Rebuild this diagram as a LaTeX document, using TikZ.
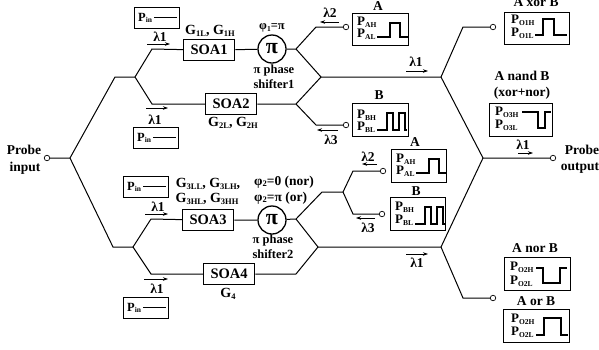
\documentclass[tikz,border=0pt]{standalone}
\usepackage{fontspec}
\setmainfont{Liberation Serif}
\usetikzlibrary{arrows.meta}
\newcommand{\sbs}[1]{\raisebox{-1.6pt}{\fontsize{7.5}{8}\selectfont #1}}
\newcommand{\sbg}[1]{\raisebox{-1.6pt}{\fontsize{8.5}{9}\selectfont #1}}
\tikzset{
  wire/.style={line width=1pt},
  boxed/.style={draw,line width=1.3pt,fill=white,inner sep=0pt,anchor=north west},
  soa/.style={boxed,font=\fontsize{14.5}{15}\bfseries\selectfont},
  port/.style={draw,circle,fill=white,line width=0.7pt,minimum size=5.5pt,inner sep=0pt},
  shifter/.style={draw,circle,fill=white,line width=1.3pt,minimum size=28pt,inner sep=0pt,font=\fontsize{22}{22}\bfseries\selectfont},
  lab/.style={inner sep=0pt,font=\fontsize{12.5}{14}\bfseries\selectfont},
  glab/.style={inner sep=0pt,font=\fontsize{14}{15}\bfseries\selectfont},
  flab/.style={inner sep=0pt,anchor=west,font=\fontsize{13.5}{15}\bfseries\selectfont},
  biglab/.style={inner sep=0pt,font=\fontsize{13.5}{15}\bfseries\selectfont},
  sig/.style={inner sep=0pt,anchor=west,font=\fontsize{13}{13}\bfseries\selectfont},
  ar/.style={line width=0.7pt,-{Stealth[length=5pt,width=3.5pt]}},
  wave/.style={line width=1.2pt}
}
\newcommand{\sboxat}[5]{\node[boxed,minimum width=#3pt,minimum height=#4pt] (#5) at (#1,#2) {};}
\begin{document}
\begin{tikzpicture}[x=1pt,y=-1pt]
\useasboundingbox (0,0) rectangle (599,349);
% coordinates
\coordinate (j0) at (70,158);
\coordinate (u1) at (115,77);
\coordinate (u2) at (135,77);
\coordinate (u3) at (152,49);
\coordinate (u4) at (152,104);
\coordinate (l1) at (113,247);
\coordinate (l2) at (133,247);
\coordinate (l3) at (151,219);
\coordinate (l4) at (151,274);
\coordinate (a1) at (296,49);
\coordinate (a2) at (296,104);
\coordinate (a3) at (316,27);
\coordinate (a4) at (316,125);
\coordinate (a5) at (321,77);
\coordinate (b1) at (296,219);
\coordinate (b2) at (296,274);
\coordinate (b3) at (322,192);
\coordinate (b4) at (343,192);
\coordinate (b5) at (353,171);
\coordinate (b6) at (353,214);
\coordinate (b7) at (318,247);
\coordinate (c1) at (441,77);
\coordinate (c2) at (441,247);
\coordinate (c3) at (463,27);
\coordinate (c4) at (463,298);
\coordinate (c5) at (483,158);
% elements
\node[soa,minimum width=51pt,minimum height=21pt] (soa1) at (183,39) {SOA1};
\node[soa,minimum width=51pt,minimum height=21pt] (soa2) at (205,93) {SOA2};
\node[soa,minimum width=51pt,minimum height=21pt] (soa3) at (182,209) {SOA3};
\node[soa,minimum width=51pt,minimum height=21pt] (soa4) at (203,263) {SOA4};
\node[shifter] (ps1) at (272,49) {π};
\node[shifter] (ps2) at (272,220) {π};
\node[port] (pin) at (47,158) {};
\node[port] (pout) at (553,158) {};
\node[port] (pa1) at (346,27) {};
\node[port] (pb1) at (346,125) {};
\node[port] (pa2) at (383,171) {};
\node[port] (pb2) at (382,214) {};
\node[port] (pxor) at (493,27) {};
\node[port] (pnor) at (493,298) {};
% wires
\begin{scope}[wire]
\draw (pin) -- (j0) -- (u1) -- (u2) -- (u3) -- (soa1);
\draw (u2) -- (u4) -- (soa2);
\draw (j0) -- (l1) -- (l2) -- (l3) -- (soa3);
\draw (l2) -- (l4) -- (soa4);
\draw (soa1) -- (ps1) -- (a1) -- (a3) -- (pa1);
\draw (a1) -- (a5) -- (a2);
\draw (soa2) -- (a2) -- (a4) -- (pb1);
\draw (a5) -- (c1) -- (c3) -- (pxor);
\draw (c1) -- (c5) -- (pout);
\draw (soa3) -- (ps2) -- (b1) -- (b3) -- (b4) -- (b5) -- (pa2);
\draw (b4) -- (b6) -- (pb2);
\draw (b1) -- (b7) -- (b2) -- (soa4);
\draw (b7) -- (c2) -- (c5);
\draw (c2) -- (c4) -- (pnor);
\end{scope}
% Pin boxes
\foreach \n/\x/\y in {pa/134/7,pb/133/127,pc/123/176,pd/123/297}{
  \node[boxed,minimum width=45pt,minimum height=21pt] (\n) at (\x,\y) {};
  \node[sig,font=\fontsize{12.5}{13}\bfseries\selectfont] (\n t) at (\x+4,\y+11) {P\sbs{in}};
  \draw[line width=1.1pt] (\x+20,\y+10.5) -- (\x+43,\y+10.5);
}
% signal boxes
\sboxat{352}{13}{56}{32}{sa1}
\sboxat{352}{103}{56}{33}{sb1}
\sboxat{391}{149}{55}{33}{sa2}
\sboxat{390}{197}{55}{33}{sb2}
\sboxat{504}{12}{65}{32}{sxor}
\sboxat{489}{103}{63}{33}{snand}
\sboxat{504}{257}{66}{33}{snor}
\sboxat{503}{309}{66}{33}{sor}
\node[sig] (ta1h) at (357,22) {P\sbs{AH}};
\node[sig] (ta1l) at (357,34) {P\sbs{AL}};
\node[sig] (tb1h) at (357,115) {P\sbs{BH}};
\node[sig] (tb1l) at (357,127) {P\sbs{BL}};
\node[sig] (ta2h) at (396,159) {P\sbs{AH}};
\node[sig] (ta2l) at (396,171) {P\sbs{AL}};
\node[sig] (tb2h) at (395,207) {P\sbs{BH}};
\node[sig] (tb2l) at (395,220) {P\sbs{BL}};
\node[sig] (txh) at (511,20) {P\sbs{O1H}};
\node[sig] (txl) at (511,33) {P\sbs{O1L}};
\node[sig] (tnh) at (495,112) {P\sbs{O3H}};
\node[sig] (tnl) at (495,125) {P\sbs{O3L}};
\node[sig] (tnoh) at (510,267) {P\sbs{O2H}};
\node[sig] (tnol) at (510,281) {P\sbs{O2L}};
\node[sig] (torh) at (511,319) {P\sbs{O2H}};
\node[sig] (torl) at (511,332) {P\sbs{O2L}};
% waves
\begin{scope}[wave]
\draw (377,37) -| (390,23) -| (400,37) -- (408,37);
\draw (377,130) -| (387,113) -| (393,130) -| (399,113) -| (405,130) -- (407,130);
\draw (416,173) -| (429,159) -| (439,173) -- (446,173);
\draw (415,224) -| (425,207) -| (431,224) -| (437,207) -| (443,224) -- (445,224);
\draw (535,35) -| (543,19) -| (554,35) -- (567,35);
\draw (522,112) -| (538,128) -| (545,112) -- (551,112);
\draw (536,268) -| (543,283) -| (560,268) -- (567,268);
\draw (536,335) -| (544,318) -| (561,335) -- (568,335);
\end{scope}
% text labels
\node[glab] (g1) at (210,31) {G\sbg{1L}, G\sbg{1H}};
\node[lab] (f1) at (272,28) {φ\sbs{1}=π};
\node[lab] (s1a) at (274,70) {π phase};
\node[lab] (s1b) at (274,84) {shifter1};
\node[glab] (g2) at (233,123) {G\sbg{2L}, G\sbg{2H}};
\node[glab] (g3a) at (208,184) {G\sbg{3LL}, G\sbg{3LH},};
\node[glab] (g3b) at (207,199) {G\sbg{3HL}, G\sbg{3HH}};
\node[flab] (f2a) at (254,182) {φ\sbg{2}=0 (nor)};
\node[flab] (f2b) at (254,198) {φ\sbg{2}=π (or)};
\node[lab] (s2a) at (273,240) {π phase};
\node[lab] (s2b) at (273,254) {shifter2};
\node[glab] (g4) at (228,294) {G\sbg{4}};
\node[biglab] (pi1) at (24,150) {Probe};
\node[biglab] (pi2) at (25,168) {input};
\node[biglab] (po1) at (582,150) {Probe};
\node[biglab] (po2) at (580,168) {output};
\node[biglab] (tA1) at (378,6) {A};
\node[biglab] (tB1) at (379,95) {B};
\node[biglab] (tA2) at (415,142) {A};
\node[biglab] (tB2) at (416,191) {B};
\node[biglab] (txor) at (536,2) {A xor B};
\node[biglab] (tnand) at (522,76) {A nand B};
\node[biglab] (txn) at (522,93) {(xor+nor)};
\node[biglab] (tnor) at (535,248) {A nor B};
\node[biglab] (tor) at (536,301) {A or B};
% lambda labels and arrows
\foreach \n/\t/\tx/\ty/\ax/\ay/\bx in {
 la/λ1/160/37/147/44/170, lb/λ1/155/120/146/108/168, lc/λ1/158/207/145/214/168, ld/λ1/157/289/144/279/168,
 le/λ2/330/13/339/22/320, lf/λ3/331/140/338/130/317, lg/λ1/416/62/406/71/428, lh/λ1/523/145/518/153/533,
 li/λ2/368/157/377/164/362, lj/λ3/368/228/375/218/356, lk/λ1/417/263/406/254/428}{
  \node[biglab] (\n) at (\tx,\ty) {\t};
  \draw[ar] (\ax,\ay) -- (\bx,\ay);
}
\end{tikzpicture}
\end{document}
